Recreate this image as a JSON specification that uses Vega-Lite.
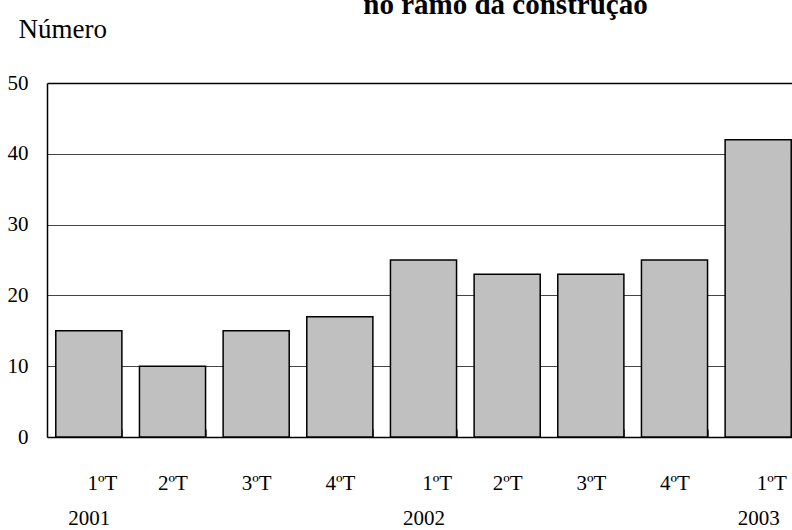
{
  "$schema": "https://vega.github.io/schema/vega-lite/v6.json",
  "width": 745,
  "height": 354,
  "autosize": {"type": "none"},
  "padding": {"left": 47, "top": 83, "right": 0, "bottom": 93},
  "background": "white",
  "title": {
    "text": "no ramo da construção",
    "font": "Liberation Serif",
    "fontSize": 29,
    "fontWeight": "bold",
    "color": "black",
    "anchor": "middle",
    "dx": 86,
    "offset": -28,
    "baseline": "alphabetic"
  },
  "config": {"view": {"stroke": null}, "font": "Liberation Serif"},
  "data": {
    "values": [
      {"periodo": "2001 1ºT", "valor": 15},
      {"periodo": "2001 2ºT", "valor": 10},
      {"periodo": "2001 3ºT", "valor": 15},
      {"periodo": "2001 4ºT", "valor": 17},
      {"periodo": "2002 1ºT", "valor": 25},
      {"periodo": "2002 2ºT", "valor": 23},
      {"periodo": "2002 3ºT", "valor": 23},
      {"periodo": "2002 4ºT", "valor": 25},
      {"periodo": "2003 1ºT", "valor": 42}
    ]
  },
  "mark": {"type": "bar", "fill": "#c0c0c0", "stroke": "black", "strokeWidth": 1.5},
  "encoding": {
    "x": {
      "field": "periodo",
      "type": "nominal",
      "sort": null,
      "scale": {"range": [0, 753], "paddingInner": 0.21, "paddingOuter": 0.105},
      "axis": {
        "title": null,
        "domainColor": "black",
        "domainWidth": 1.5,
        "tickBand": "extent",
        "tickSize": -8,
        "tickColor": "#666666",
        "tickWidth": 1,
        "labelAngle": 0,
        "labelFont": "Liberation Serif",
        "labelFontSize": 21,
        "labelColor": "black",
        "labelLineHeight": 35,
        "labelPadding": 43,
        "labelOverlap": false,
        "labelExpr": "split(datum.value, ' ')[1] == '1ºT' ? ['\u200b\u00a0\u00a0\u00a0\u00a0\u00a01ºT', split(datum.value, ' ')[0]] : [split(datum.value, ' ')[1], '']",
        "grid": false
      }
    },
    "y": {
      "field": "valor",
      "type": "quantitative",
      "scale": {"domain": [0, 50]},
      "axis": {
        "title": "Número",
        "titleAngle": 0,
        "titleAlign": "left",
        "titleBaseline": "alphabetic",
        "titleX": -29,
        "titleY": -46,
        "titleFont": "Liberation Serif",
        "titleFontSize": 27,
        "titleFontWeight": "normal",
        "titleColor": "black",
        "values": [0, 10, 20, 30, 40, 50],
        "ticks": false,
        "labelPadding": 19,
        "labelFont": "Liberation Serif",
        "labelFontSize": 21,
        "labelColor": "black",
        "domainColor": "black",
        "domainWidth": 1.5,
        "grid": true,
        "gridColor": {"condition": {"test": "datum.value === 50", "value": "black"}, "value": "#444444"},
        "gridWidth": {"condition": {"test": "datum.value === 50", "value": 1.5}, "value": 1}
      }
    }
  }
}
